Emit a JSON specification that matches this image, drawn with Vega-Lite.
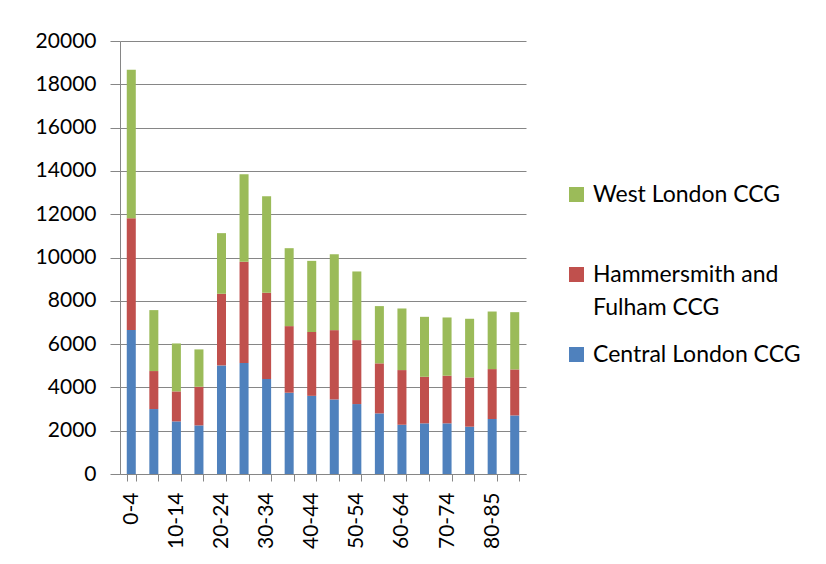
{
  "$schema": "https://vega.github.io/schema/vega-lite/v6.json",
  "width": 406,
  "height": 433,
  "autosize": {"type": "none"},
  "padding": {"left": 120, "top": 41, "right": 300, "bottom": 90},
  "background": "white",
  "data": {"values": [
    {"age": "0-4", "ccg": "Central London CCG", "value": 6650},
    {"age": "0-4", "ccg": "Hammersmith and Fulham CCG", "value": 5165},
    {"age": "0-4", "ccg": "West London CCG", "value": 6860},
    {"age": "5-9", "ccg": "Central London CCG", "value": 3000},
    {"age": "5-9", "ccg": "Hammersmith and Fulham CCG", "value": 1755},
    {"age": "5-9", "ccg": "West London CCG", "value": 2815},
    {"age": "10-14", "ccg": "Central London CCG", "value": 2430},
    {"age": "10-14", "ccg": "Hammersmith and Fulham CCG", "value": 1385},
    {"age": "10-14", "ccg": "West London CCG", "value": 2215},
    {"age": "15-19", "ccg": "Central London CCG", "value": 2245},
    {"age": "15-19", "ccg": "Hammersmith and Fulham CCG", "value": 1785},
    {"age": "15-19", "ccg": "West London CCG", "value": 1725},
    {"age": "20-24", "ccg": "Central London CCG", "value": 5015},
    {"age": "20-24", "ccg": "Hammersmith and Fulham CCG", "value": 3310},
    {"age": "20-24", "ccg": "West London CCG", "value": 2800},
    {"age": "25-29", "ccg": "Central London CCG", "value": 5125},
    {"age": "25-29", "ccg": "Hammersmith and Fulham CCG", "value": 4675},
    {"age": "25-29", "ccg": "West London CCG", "value": 4045},
    {"age": "30-34", "ccg": "Central London CCG", "value": 4385},
    {"age": "30-34", "ccg": "Hammersmith and Fulham CCG", "value": 3985},
    {"age": "30-34", "ccg": "West London CCG", "value": 4460},
    {"age": "35-39", "ccg": "Central London CCG", "value": 3755},
    {"age": "35-39", "ccg": "Hammersmith and Fulham CCG", "value": 3075},
    {"age": "35-39", "ccg": "West London CCG", "value": 3600},
    {"age": "40-44", "ccg": "Central London CCG", "value": 3610},
    {"age": "40-44", "ccg": "Hammersmith and Fulham CCG", "value": 2950},
    {"age": "40-44", "ccg": "West London CCG", "value": 3285},
    {"age": "45-49", "ccg": "Central London CCG", "value": 3445},
    {"age": "45-49", "ccg": "Hammersmith and Fulham CCG", "value": 3200},
    {"age": "45-49", "ccg": "West London CCG", "value": 3505},
    {"age": "50-54", "ccg": "Central London CCG", "value": 3230},
    {"age": "50-54", "ccg": "Hammersmith and Fulham CCG", "value": 2955},
    {"age": "50-54", "ccg": "West London CCG", "value": 3170},
    {"age": "55-59", "ccg": "Central London CCG", "value": 2800},
    {"age": "55-59", "ccg": "Hammersmith and Fulham CCG", "value": 2310},
    {"age": "55-59", "ccg": "West London CCG", "value": 2645},
    {"age": "60-64", "ccg": "Central London CCG", "value": 2275},
    {"age": "60-64", "ccg": "Hammersmith and Fulham CCG", "value": 2525},
    {"age": "60-64", "ccg": "West London CCG", "value": 2845},
    {"age": "65-69", "ccg": "Central London CCG", "value": 2340},
    {"age": "65-69", "ccg": "Hammersmith and Fulham CCG", "value": 2150},
    {"age": "65-69", "ccg": "West London CCG", "value": 2770},
    {"age": "70-74", "ccg": "Central London CCG", "value": 2340},
    {"age": "70-74", "ccg": "Hammersmith and Fulham CCG", "value": 2200},
    {"age": "70-74", "ccg": "West London CCG", "value": 2690},
    {"age": "75-79", "ccg": "Central London CCG", "value": 2185},
    {"age": "75-79", "ccg": "Hammersmith and Fulham CCG", "value": 2275},
    {"age": "75-79", "ccg": "West London CCG", "value": 2710},
    {"age": "80-85", "ccg": "Central London CCG", "value": 2540},
    {"age": "80-85", "ccg": "Hammersmith and Fulham CCG", "value": 2305},
    {"age": "80-85", "ccg": "West London CCG", "value": 2660},
    {"age": "85+", "ccg": "Central London CCG", "value": 2705},
    {"age": "85+", "ccg": "Hammersmith and Fulham CCG", "value": 2125},
    {"age": "85+", "ccg": "West London CCG", "value": 2645}
  ]},
  "mark": {"type": "bar"},
  "encoding": {
    "x": {
      "field": "age",
      "type": "nominal",
      "sort": null,
      "scale": {"paddingInner": 0.6, "paddingOuter": 0.3},
      "axis": {
        "title": null,
        "labelAngle": -90,
        "labelAlign": "right",
        "labelBaseline": "middle",
        "labelPadding": 11,
        "labelOverlap": false,
        "labelFont": "Lato",
        "labelFontSize": 21,
        "labelColor": "black",
        "tickBand": "extent",
        "tickSize": 7,
        "tickColor": "#868686",
        "domainColor": "#868686",
        "labelExpr": "indexof(['0-4','10-14','20-24','30-34','40-44','50-54','60-64','70-74','80-85'], datum.value) >= 0 ? datum.label : ''"
      }
    },
    "y": {
      "field": "value",
      "type": "quantitative",
      "stack": "zero",
      "scale": {"domain": [0, 20000], "nice": false},
      "axis": {
        "title": null,
        "values": [0, 2000, 4000, 6000, 8000, 10000, 12000, 14000, 16000, 18000, 20000],
        "format": "d",
        "labelFont": "Lato",
        "labelFontSize": 21,
        "labelColor": "black",
        "labelPadding": 14,
        "tickSize": 10,
        "tickColor": "#868686",
        "domainColor": "#868686",
        "gridColor": "#868686",
        "gridOpacity": 1
      }
    },
    "color": {
      "field": "ccg",
      "type": "nominal",
      "scale": {
        "domain": ["West London CCG", "Hammersmith and Fulham CCG", "Central London CCG"],
        "range": ["#9BBB59", "#C0504D", "#4F81BD"]
      },
      "legend": {
        "title": null,
        "orient": "none",
        "legendX": 445,
        "legendY": 142,
        "padding": 0,
        "symbolType": "square",
        "symbolSize": 225,
        "symbolStrokeWidth": 0,
        "labelFont": "Lato",
        "labelFontSize": 23,
        "labelColor": "black",
        "labelOffset": 5,
        "labelLimit": 300,
        "rowPadding": 23,
        "labelExpr": "datum.label == 'Hammersmith and Fulham CCG' ? ['Hammersmith and', 'Fulham CCG'] : [datum.label, ' ']",
        "encode": {"labels": {"update": {"lineHeight": {"value": 33}}}}
      }
    },
    "order": {"field": "ccg", "sort": "ascending"}
  },
  "config": {
    "view": {"stroke": null},
    "axis": {"domainWidth": 1, "tickWidth": 1, "gridWidth": 1}
  }
}
